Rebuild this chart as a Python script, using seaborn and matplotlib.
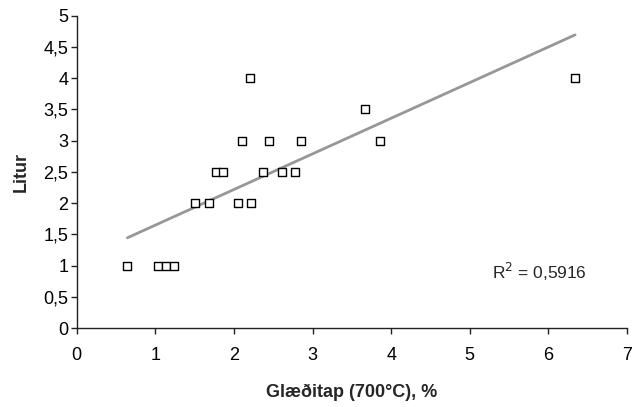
import numpy as np
import pandas as pd
import matplotlib
matplotlib.use("Agg")
import matplotlib.pyplot as plt
import seaborn as sns

# Data
gleditap = [0.644, 1.038, 1.136, 1.234,
            1.509, 1.683, 2.048, 2.218,
            1.768, 1.858, 2.374, 2.616, 2.777,
            2.099, 2.447, 2.850, 3.859,
            3.668,
            2.205, 6.340]
litur = [1, 1, 1, 1,
         2, 2, 2, 2,
         2.5, 2.5, 2.5, 2.5, 2.5,
         3, 3, 3, 3,
         3.5,
         4, 4]
x_ticks = [0, 1, 2, 3, 4, 5, 6, 7]
y_ticks = [0, 0.5, 1, 1.5, 2, 2.5, 3, 3.5, 4, 4.5, 5]
y_tick_labels = ["0", "0,5", "1", "1,5", "2", "2,5", "3", "3,5", "4", "4,5", "5"]
r2_text = "R$^2$ = 0,5916"

df = pd.DataFrame({"x": gleditap, "y": litur})

sns.set_theme(style="white")
plt.rcParams["font.family"] = ["Liberation Sans", "DejaVu Sans"]

fig = plt.figure(figsize=(6.4, 4.07), dpi=100)
ax = fig.add_axes([0.12, 0.194, 0.8597, 0.7674])

sns.regplot(data=df, x="x", y="y", ax=ax, scatter=False, ci=None,
            line_kws=dict(color="#979797", lw=2.0), truncate=True)
sns.scatterplot(data=df, x="x", y="y", ax=ax, marker="s", s=30,
                facecolor="white", edgecolor="black", linewidth=1.0, zorder=3)

ax.set_xlim(0, 7)
ax.set_ylim(0, 5)
ax.set_xticks(x_ticks)
ax.set_xticklabels([str(t) for t in x_ticks])
ax.set_yticks(y_ticks)
ax.set_yticklabels(y_tick_labels)

for side in ["top", "right"]:
    ax.spines[side].set_visible(False)
for side in ["left", "bottom"]:
    ax.spines[side].set_color("#222222")
    ax.spines[side].set_linewidth(1.0)

ax.tick_params(axis="both", which="major", direction="out", length=4, width=1,
               color="#222222", labelsize=13, labelcolor="black",
               bottom=True, left=True)
ax.tick_params(axis="x", pad=10)
ax.tick_params(axis="y", pad=2)

ax.set_xlabel("Glæðitap (700°C), %", fontsize=13, fontweight="bold", labelpad=14)
ax.set_ylabel("Litur", fontsize=13, fontweight="bold", labelpad=10)

ax.text(5.28, 0.9, r2_text, fontsize=12.5, ha="left", va="center")

fig.savefig("out.png", dpi=100)
